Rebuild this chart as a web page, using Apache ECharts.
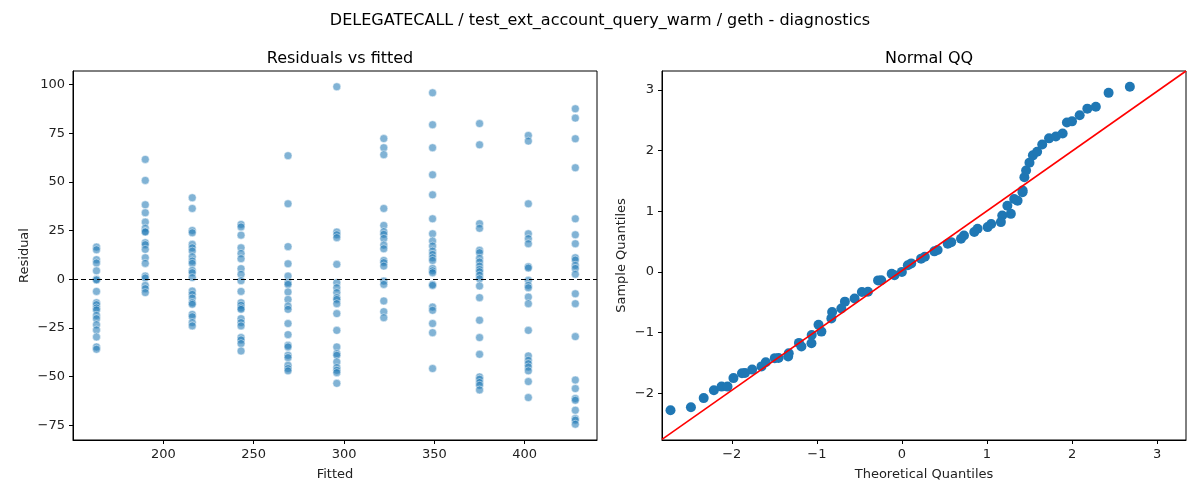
<!DOCTYPE html>
<html>
<head>
<meta charset="utf-8">
<script src="https://cdn.jsdelivr.net/npm/echarts@6/dist/echarts.min.js"></script>
<style>
  html, body { margin: 0; padding: 0; background: #fff; }
  #main { width: 1200px; height: 500px; }
</style>
</head>
<body>
<div id="main"></div>
<script>
// fitted level of each column
var fitted = [163, 190, 216, 243, 269, 296, 322, 349, 375, 402, 428];
// residuals per column
var residuals = [
  [16.6, 15.2, 10.1, 8.4, 4.4, 0, -0.3, -6.2, -12.0, -13.0, -14.7, -15.7, -18.5, -20.2, -23.3, -26.0, -29.6, -34.7, -35.9],
  [61.6, 50.8, 38.3, 34.2, 29.4, 26.3, 24.6, 24.3, 18.8, 17.8, 15.4, 11.1, 8.2, 1.7, 0.7, -3.1, -4.8, -6.8],
  [41.9, 36.4, 25.1, 23.9, 18.0, 16.2, 14.5, 11.6, 9.4, 8.2, 4.6, 3.4, 0.9, -6.0, -7.7, -9.6, -12.0, -12.8, -18.0, -19.2, -22.2, -23.9],
  [28.2, 26.9, 22.7, 16.2, 13.3, 10.6, 5.5, 2.6, -0.7, -6.2, -12.0, -13.3, -14.7, -15.4, -20.2, -22.2, -23.9, -29.9, -31.1, -33.0, -36.8],
  [63.5, 38.8, 16.8, 8.0, 1.7, -1.7, -2.6, -6.5, -10.3, -13.7, -15.4, -22.7, -28.4, -33.9, -34.7, -39.0, -40.2, -44.1, -45.8, -47.0],
  [98.9, 24.3, 22.9, 21.4, 7.7, -1.7, -4.3, -6.8, -9.4, -10.3, -12.5, -17.6, -26.2, -34.7, -38.1, -39.0, -42.4, -45.3, -46.7, -47.9, -53.4],
  [72.3, 67.6, 64.0, 36.4, 27.7, 24.5, 23.1, 21.0, 17.6, 15.7, 9.7, 8.6, 6.8, -0.9, -2.6, -11.1, -16.6, -19.7],
  [95.8, 79.4, 67.6, 53.7, 43.4, 31.1, 23.4, 19.7, 17.1, 14.5, 12.8, 11.1, 9.7, 5.6, 4.4, 3.4, -2.6, -3.1, -14.2, -15.9, -22.7, -27.4, -45.8],
  [80.0, 69.1, 28.6, 26.2, 14.9, 13.7, 10.8, 8.9, 6.8, 5.1, 3.9, 2.1, 0.3, -3.4, -9.4, -21.0, -29.9, -38.5, -50.1, -51.3, -53.0, -54.4, -56.8],
  [73.9, 71.0, 38.8, 23.4, 20.9, 18.3, 6.5, 5.8, -0.5, -3.1, -4.3, -9.1, -12.5, -26.2, -39.3, -41.6, -43.3, -45.0, -47.0, -52.5, -60.7],
  [87.6, 82.8, 72.2, 57.3, 31.1, 22.9, 18.3, 11.1, 9.9, 7.2, 5.6, 2.6, -7.4, -12.5, -29.4, -51.7, -56.1, -61.2, -62.1, -67.2, -71.5, -72.3, -74.4]
];
var residTicks = [-75, -50, -25, 0, 25, 50, 75, 100];
var qqTicks = [-2, -1, 0, 1, 2, 3];

// normal QQ points
var qqTheoretical = [-2.72, -2.48, -2.33, -2.21, -2.12, -2.05, -1.98, -1.88, -1.76, -1.60, -1.45, -1.33, -1.21, -1.06, -0.98, -0.82, -0.67, -0.47, -0.28, -0.12,
  0, 0.11, 0.27, 0.42, 0.58, 0.73, 0.89, 1.05, 1.18, 1.24, 1.32, 1.42, 1.44, 1.46, 1.50, 1.54, 1.59, 1.65, 1.73, 1.81, 1.89, 1.94, 2.00, 2.09, 2.18, 2.28, 2.43, 2.68,
  -1.845, -1.65, -1.494, -1.337, -1.181, -1.063, -0.946, -0.829, -0.712, -0.556, -0.399, -0.243, -0.087, 0.070, 0.226, 0.382, 0.539, 0.695, 0.851, 1.008, 1.164, 1.281, 1.360, 1.418];
var qqSample = [-2.28, -2.23, -2.08, -1.95, -1.89, -1.89, -1.75, -1.67, -1.61, -1.49, -1.42, -1.34, -1.17, -1.04, -0.87, -0.66, -0.49, -0.33, -0.14, -0.03,
  0, 0.14, 0.25, 0.36, 0.49, 0.60, 0.71, 0.79, 0.93, 1.09, 1.20, 1.34, 1.56, 1.67, 1.80, 1.92, 1.98, 2.10, 2.20, 2.23, 2.28, 2.46, 2.48, 2.58, 2.69, 2.72, 2.95, 3.05,
  -1.667, -1.557, -1.421, -1.394, -1.230, -1.175, -0.984, -0.766, -0.602, -0.438, -0.328, -0.137, -0.055, 0.108, 0.218, 0.338, 0.464, 0.546, 0.656, 0.738, 0.820, 0.956, 1.174, 1.311];
var refLine = [[-2.82, -2.76], [3.34, 3.31]];

var scatterData = [];
fitted.forEach(function (f, i) {
  residuals[i].forEach(function (r) { scatterData.push([f, r]); });
});
var qqData = qqTheoretical.map(function (x, i) { return [x, qqSample[i]]; });

var font = 'DejaVu Sans';
function minus(v) { return String(v).replace('-', '\u2212'); }
function ax(extra, ticks) {
  return Object.assign({
    axisLine: { onZero: false, lineStyle: { color: '#000', width: 1 } },
    axisTick: { length: 4, lineStyle: { color: '#000' }, customValues: ticks },
    axisLabel: { color: '#222', fontSize: 13, fontFamily: font, customValues: ticks, formatter: minus },
    splitLine: { show: false },
    nameTextStyle: { color: '#222', fontSize: 13, fontFamily: font }
  }, extra);
}

var chart = echarts.init(document.getElementById('main'));
chart.setOption({
  animation: false,
  backgroundColor: '#fff',
  title: [
    { text: 'DELEGATECALL / test_ext_account_query_warm / geth - diagnostics', left: 'center', top: 8,
      textStyle: { fontSize: 16, fontWeight: 'normal', fontFamily: font, color: '#000' } },
    { text: 'Residuals vs fitted', left: 335, top: 46, textAlign: 'center',
      textStyle: { fontSize: 16, fontWeight: 'normal', fontFamily: font, color: '#000' } },
    { text: 'Normal QQ', left: 924, top: 46, textAlign: 'center',
      textStyle: { fontSize: 16, fontWeight: 'normal', fontFamily: font, color: '#000' } }
  ],
  grid: [
    { left: 73, width: 524, top: 71, height: 369, show: true, borderColor: '#000', borderWidth: 1 },
    { left: 662, width: 524, top: 71, height: 369, show: true, borderColor: '#000', borderWidth: 1 }
  ],
  xAxis: [
    ax({ gridIndex: 0, type: 'value', min: 150, max: 440, name: 'Fitted', nameLocation: 'middle', nameGap: 28 }, [200, 250, 300, 350, 400]),
    ax({ gridIndex: 1, type: 'value', min: -2.82, max: 3.34, name: 'Theoretical Quantiles', nameLocation: 'middle', nameGap: 28 }, qqTicks)
  ],
  yAxis: [
    ax({ gridIndex: 0, type: 'value', min: -82.5, max: 107, name: 'Residual', nameLocation: 'middle', nameGap: 42 }, residTicks),
    ax({ gridIndex: 1, type: 'value', min: -2.77, max: 3.31, name: 'Sample Quantiles', nameLocation: 'middle', nameGap: 34 }, qqTicks)
  ],
  series: [
    {
      type: 'scatter', xAxisIndex: 0, yAxisIndex: 0, data: scatterData, symbolSize: 8,
      itemStyle: { color: 'rgba(31,119,180,0.7)', borderColor: '#fff', borderWidth: 0.6 },
      markLine: {
        silent: true, symbol: 'none', label: { show: false },
        lineStyle: { color: '#000', type: [5, 3], width: 1.2 },
        data: [{ yAxis: 0 }]
      }
    },
    {
      type: 'line', xAxisIndex: 1, yAxisIndex: 1, data: refLine, symbol: 'none',
      lineStyle: { color: '#ff0000', width: 1.6 }, z: 3
    },
    {
      type: 'scatter', xAxisIndex: 1, yAxisIndex: 1, data: qqData, symbolSize: 10,
      itemStyle: { color: '#1f77b4', opacity: 1 }, z: 2
    }
  ]
});
</script>
</body>
</html>
